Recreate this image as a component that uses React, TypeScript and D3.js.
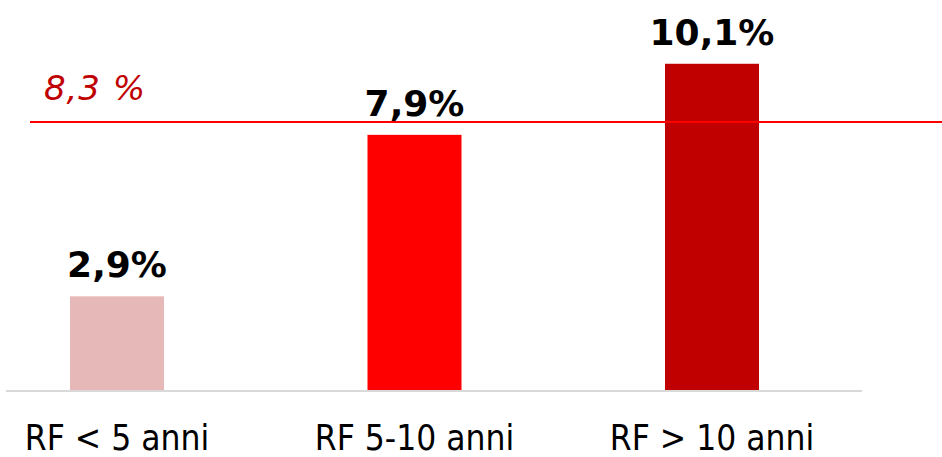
import React from "react";
import * as d3 from "d3";

const categories = ["RF < 5 anni", "RF 5-10 anni", "RF > 10 anni"];
const values = [2.9, 7.9, 10.1];
const valueLabels = ["2,9%", "7,9%", "10,1%"];
const barColors = ["#e6b8b7", "#ff0000", "#c00000"];
const referenceValue = 8.3;
const referenceLabel = "8,3 %";

const W = 942;
const H = 457;

export default function App() {
  const x = d3
    .scaleBand<string>()
    .domain(categories)
    .range([-31.75, 860.75])
    .paddingInner(0.684)
    .paddingOuter(0.342);
  const y = d3.scaleLinear().domain([0, 10]).range([390, 67]);
  const refY = y(referenceValue);

  return (
    <svg
      width={W}
      height={H}
      style={{ position: "absolute", left: 0, top: 0, background: "#fff" }}
    >
      <line x1={6} x2={862} y1={391} y2={391} stroke="#d9d9d9" strokeWidth={2} />
      {categories.map((c, i) => {
        const bx = x(c)!;
        const bw = x.bandwidth();
        const top = y(values[i]);
        return (
          <g key={c}>
            <rect x={bx} y={top} width={bw} height={y(0) - top} fill={barColors[i]} />
            <text
              x={bx + bw / 2}
              y={top - 19}
              textAnchor="middle"
              fontFamily="DejaVu Sans"
              fontWeight="bold"
              fontSize={36}
              fill="#000"
            >
              {valueLabels[i]}
            </text>
            <text
              x={bx + bw / 2}
              y={450}
              textAnchor="middle"
              fontFamily="DejaVu Sans Condensed, DejaVu Sans"
              fontSize={35}
              fill="#000"
            >
              {c}
            </text>
          </g>
        );
      })}
      <line x1={30} x2={942} y1={refY} y2={refY} stroke="#ff0000" strokeWidth={2} />
      <text
        x={44}
        y={100}
        fontFamily="DejaVu Sans"
        fontStyle="italic"
        fontSize={34}
        fill="#c00000"
        textLength={101}
        lengthAdjust="spacing"
      >
        {referenceLabel}
      </text>
    </svg>
  );
}
